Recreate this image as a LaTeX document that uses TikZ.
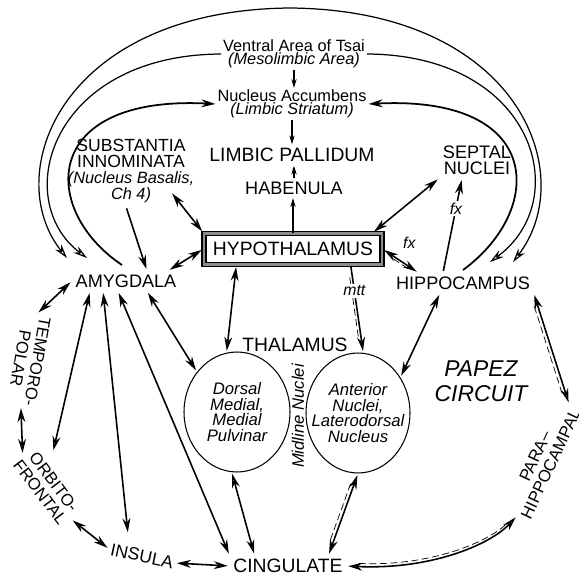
\documentclass[tikz,border=0pt]{standalone}
\usepackage{fontspec}
\setmainfont{Liberation Sans}
\usetikzlibrary{arrows.meta,calc,shapes.geometric}

\tikzset{
  hollow/.tip={Stealth[open,length=8pt,width=4.5pt]},
  region/.style={font=\fontsize{10.3}{9.1}\selectfont, inner sep=2pt, align=center},
  bigregion/.style={font=\fontsize{11}{12}\selectfont, inner sep=2pt},
  note/.style={font=\fontsize{9.3}{7.3}\selectfont, inner sep=1pt, align=center},
  cortex/.style={font=\fontsize{9.5}{9.8}\selectfont, inner sep=1pt, align=center},
  nucleus/.style={draw, ellipse, line width=0.6pt, inner xsep=-6pt, inner ysep=-6pt, align=center, font=\itshape\fontsize{9.5}{8.8}\selectfont},
  tract/.style={font=\itshape\fontsize{9}{10}\selectfont, inner sep=1pt},
  papezlabel/.style={font=\itshape\fontsize{13}{14}\selectfont, align=center},
  hypobox/.style={draw, line width=0.8pt, double=black!45, double distance=1.6pt, minimum width=3.56cm, minimum height=0.62cm, inner sep=1pt, font=\fontsize{11}{12}\selectfont},
  twoway/.style={line width=0.9pt, hollow-hollow, shorten <=1pt, shorten >=1pt},
  oneway/.style={line width=0.9pt, -hollow, shorten <=1pt, shorten >=1pt},
  loopline/.style={line width=0.7pt},
  relay/.style={semithick, -{Stealth[length=5pt,width=3pt]}},
  papez/.style={preaction={draw, arrows=-, line width=0.4pt, dash pattern=on 4pt off 2pt, shorten <=7pt, shorten >=7pt, transform canvas={shift={#1}}}},
}

\begin{document}
\begin{tikzpicture}[x=0.02cm,y=-0.02cm]
    \useasboundingbox (0,0) rectangle (579,578);

    % Upper structures
    \node[note] (tsai) at (294,54) {Ventral Area of Tsai\\\textit{(Mesolimbic Area)}};
    \node[note] (accumb) at (292,104) {Nucleus Accumbens\\\textit{(Limbic Striatum)}};
    \node[bigregion] (pallid) at (292,155) {LIMBIC PALLIDUM};
    \node[region] (haben) at (294,188) {HABENULA};
    \node[hypobox] (hypo) at (293,249) {HYPOTHALAMUS};
    \node[region, font=\fontsize{10}{9.1}\selectfont] (subst) at (131,171) {SUBSTANTIA\\INNOMINATA\\\textit{\fontsize{9.3}{9.1}\selectfont(Nucleus Basalis,}\\\textit{\fontsize{9.3}{9.1}\selectfont Ch 4)}};
    \node[region] (septal) at (477,160) {SEPTAL\\NUCLEI};
    \node[region] (amyg) at (126,281) {AMYGDALA};
    \node[region] (hippo) at (463,283) {HIPPOCAMPUS};

    % Thalamus
    \node[bigregion] (thal) at (295,345) {THALAMUS};
    \node[nucleus, minimum width=2.12cm, minimum height=2.4cm] (dmn) at (237,412) {Dorsal\\Medial,\\Medial\\Pulvinar};
    \node[nucleus, minimum width=2.08cm, minimum height=2.4cm] (ant) at (358,413) {Anterior\\Nuclei,\\Laterodorsal\\Nucleus};
    \node[tract, rotate=90, font=\itshape\fontsize{9.5}{10}\selectfont] (midline) at (298,416) {Midline Nuclei};

    % Cortex
    \node[cortex, rotate=-100] (tempo) at (29,360) {TEMPORO-\\POLAR};
    \node[cortex, rotate=-53] (orbito) at (47,487) {ORBITO-\\FRONTAL};
    \node[cortex, rotate=-12, font=\fontsize{10}{10}\selectfont] (insula) at (142,556) {INSULA};
    \node[bigregion] (cing) at (288,566) {CINGULATE};
    \node[cortex, rotate=65] (parahip) at (543,460) {PARA--\\HIPPOCAMPAL};
    \node[papezlabel] (papez) at (481,381) {PAPEZ\\CIRCUIT};

    % Midline chain
    \draw[relay] (tsai.south) -- (tsai.south |- accumb.north);
    \draw[relay] (accumb.south) -- (accumb.south |- pallid.north);
    \draw[relay] (haben.north) -- (haben.north |- pallid.south);
    \draw[relay] (hypo.north) -- (hypo.north |- haben.south);

    % Long loops
    \draw[loopline, hollow-hollow] ($(amyg)+(-59,-23)$) .. controls (0,175) and (60,10) .. (290,8)
        .. controls (520,10) and (580,175) .. ($(hippo)+(50,-21)$);
    \draw[loopline, -hollow] (tsai.west) .. controls (50,55) and (10,200) .. ($(amyg)+(-39,-23)$);
    \draw[loopline, -hollow] (tsai.east) .. controls (535,55) and (575,200) .. ($(hippo)+(27,-21)$);
    \draw[loopline, line width=1pt, -hollow] ($(amyg)+(-4,-16)$) .. controls (40,210) and (40,95) .. (accumb.west);
    \draw[loopline, line width=1pt, -hollow] ($(hippo)+(0,-13)$) .. controls (545,210) and (545,95) .. (accumb.east);

    % Hypothalamus
    \draw[twoway] ($(subst)+(40,21)$) -- (hypo.north west);
    \draw[oneway] ($(subst.south)+(-5,0)$) -- ($(amyg.north)+(21,0)$);
    \draw[twoway] (hypo.west) -- ($(amyg.north east)+(-12,0)$);
    \draw[twoway] (septal.south west) -- ($(hypo.north east)+(-10,0)$);
    \draw[twoway] ($(hypo.south west)+(33,0)$) -- (dmn.100);
    \draw[oneway, papez={(-1.5pt,0pt)}] ($(hypo.south east)+(-32,0)$) -- node[tract, fill=white, pos=0.29] (mtt) {mtt} (ant.85);
    \draw[twoway, papez={(0pt,-1.5pt)}] ($(hippo.north west)+(26,0)$) -- node[tract, pos=0.45, above=6pt, xshift=4pt] (fxlow) {fx} (hypo.east);
    \draw[oneway] ($(hippo.north)+(-20,0)$) -- node[tract, fill=white, pos=0.68] (fxup) {fx} ($(septal.south)+(-15,0)$);

    % Amygdala
    \draw[twoway] (amyg.west) -- (tempo.west);
    \draw[twoway] ($(amyg.south)+(-36,0)$) -- ($(orbito)+(6,-35)$);
    \draw[twoway] ($(amyg.south)+(-23,0)$) -- ($(insula)+(-14,-22)$);
    \draw[twoway] ($(amyg.south)+(-8,0)$) -- (cing.north west);
    \draw[twoway] ($(amyg.south)+(21,0)$) -- (dmn.135);

    % Cortical ring
    \draw[twoway] (tempo.east) -- (orbito.west);
    \draw[twoway] (orbito.east) -- (insula.west);
    \draw[twoway] (insula.east) -- (cing.west);

    % Papez circuit
    \draw[twoway] ($(hippo.south)+(-23,0)$) -- (ant.40);
    \draw[twoway, papez={(-1.8pt,-0.8pt)}] (hippo.south east) -- (parahip.east);
    \draw[twoway, papez={(0pt,1.8pt)}] (cing.east) .. controls (430,570) and (490,545) .. (parahip.west);
    \draw[twoway, papez={(-1.8pt,0.8pt)}] (ant.south) -- ($(cing.north east)+(-18,0)$);
    \draw[twoway] (dmn.265) -- ($(cing.north west)+(25,0)$);
\end{tikzpicture}
\end{document}
